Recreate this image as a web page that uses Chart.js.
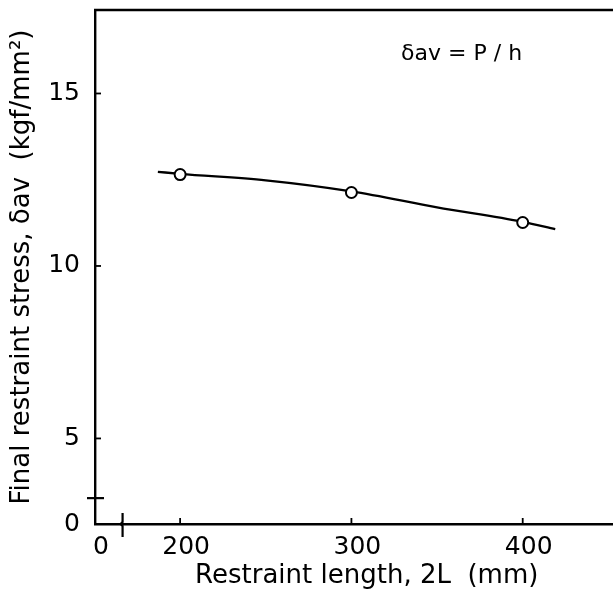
<!DOCTYPE html>
<html>
<head>
<meta charset="utf-8">
<script src="https://cdn.jsdelivr.net/npm/chart.js@4/dist/chart.umd.min.js"></script>
<style>
  html, body { margin: 0; padding: 0; background: #fff; overflow: hidden; }
  #wrap { width: 613px; height: 592px; overflow: hidden; }
</style>
</head>
<body>
<div id="wrap"><canvas id="c" width="646" height="592"></canvas></div>
<script>
// restraint length vs final restraint stress
const pointLengths = [200, 300, 400];
const pointStress = [12.65, 12.13, 11.26];

// smooth fitted curve
const curveLengths = [187, 200, 250, 300, 350, 400, 419];
const curveStress = [12.73, 12.67, 12.48, 12.16, 11.70, 11.28, 11.07];

const xTickValues = [200, 300, 400];
const yTickValues = [5, 10, 15];

// axis ranges (axes are broken near the origin)
const xMin = 150.3, xMax = 467.6, xBreak = 166.4;
const yMin = 2.52, yMax = 17.42, yBreak = 3.27;

const noteText = 'δav = P / h';
const notePos = [329, 16.15];

const FONT = 'DejaVu Sans';

const framePlugin = {
    id: 'frame',
    afterDraw(chart) {
        const { ctx, chartArea: a } = chart;
        const xs = chart.scales.x, ys = chart.scales.y;
        ctx.save();
        ctx.strokeStyle = '#000';
        ctx.lineWidth = 2.4;
        // top border
        ctx.beginPath();
        ctx.moveTo(a.left - 1, a.top);
        ctx.lineTo(a.right, a.top);
        ctx.stroke();
        // inward ticks
        ctx.lineWidth = 1.8;
        xTickValues.forEach(v => {
            const px = xs.getPixelForValue(v);
            ctx.beginPath();
            ctx.moveTo(px, a.bottom);
            ctx.lineTo(px, a.bottom - 6);
            ctx.stroke();
        });
        yTickValues.forEach(v => {
            const py = ys.getPixelForValue(v);
            ctx.beginPath();
            ctx.moveTo(a.left, py);
            ctx.lineTo(a.left + 6, py);
            ctx.stroke();
        });
        // break marks
        ctx.lineWidth = 2.2;
        const by = ys.getPixelForValue(yBreak);
        ctx.beginPath();
        ctx.moveTo(a.left - 8, by);
        ctx.lineTo(a.left + 9, by);
        ctx.stroke();
        const bx = xs.getPixelForValue(xBreak);
        ctx.beginPath();
        ctx.moveTo(bx, a.bottom - 11);
        ctx.lineTo(bx, a.bottom - 2);
        ctx.quadraticCurveTo(bx - 3, a.bottom, bx, a.bottom + 2);
        ctx.lineTo(bx, a.bottom + 13);
        ctx.stroke();
        // formula note
        ctx.fillStyle = '#000';
        ctx.font = '22px "' + FONT + '"';
        ctx.textAlign = 'left';
        ctx.textBaseline = 'middle';
        ctx.fillText(noteText, xs.getPixelForValue(notePos[0]), ys.getPixelForValue(notePos[1]));
        ctx.restore();
    }
};

new Chart(document.getElementById('c'), {
    type: 'scatter',
    data: {
        datasets: [
            {
                label: 'fit',
                data: curveLengths.map((x, i) => ({ x, y: curveStress[i] })),
                showLine: true, borderColor: '#000', borderWidth: 2.3,
                pointRadius: 0, tension: 0.4, cubicInterpolationMode: 'monotone',
                order: 2
            },
            {
                label: 'measured',
                data: pointLengths.map((x, i) => ({ x, y: pointStress[i] })),
                showLine: false, pointStyle: 'circle', pointRadius: 5.5,
                pointBackgroundColor: '#fff', pointBorderColor: '#000', pointBorderWidth: 2,
                order: 1
            }
        ]
    },
    options: {
        responsive: false,
        animation: false,
        events: [],
        layout: { padding: { top: 10, left: 0, right: 0, bottom: 0 } },
        plugins: { legend: { display: false }, tooltip: { enabled: false } },
        scales: {
            x: {
                type: 'linear', min: xMin, max: xMax,
                grid: { display: false, drawTicks: false },
                border: { display: true, color: '#000', width: 2.4 },
                afterBuildTicks: s => { s.ticks = [xMin, ...xTickValues].map(v => ({ value: v })); },
                afterFit: s => { s.height = 68; s.paddingLeft = 0; s.paddingRight = 0; },
                ticks: {
                    color: '#000', padding: 8, labelOffset: 6, maxRotation: 0,
                    font: { family: FONT, size: 25 },
                    callback: v => (v === xMin ? '0' : String(v))
                },
                title: {
                    display: true, text: 'Restraint length, 2L  (mm)', color: '#000',
                    font: { family: FONT, size: 26 }, padding: { top: 0, bottom: 0 }
                }
            },
            y: {
                type: 'linear', min: yMin, max: yMax,
                grid: { display: false, drawTicks: false },
                border: { display: true, color: '#000', width: 2.4 },
                afterBuildTicks: s => { s.ticks = [yMin, ...yTickValues].map(v => ({ value: v })); },
                afterFit: s => { s.width = 95; s.paddingTop = 0; s.paddingBottom = 0; },
                ticks: {
                    color: '#000', padding: 15,
                    font: { family: FONT, size: 25 },
                    callback: v => (v === yMin ? '0' : String(v))
                },
                title: {
                    display: true, text: 'Final restraint stress, δav  (kgf/mm²)', color: '#000',
                    font: { family: FONT, size: 26 }, padding: { top: 7, bottom: 0 }
                }
            }
        }
    },
    plugins: [framePlugin]
});
</script>
</body>
</html>
